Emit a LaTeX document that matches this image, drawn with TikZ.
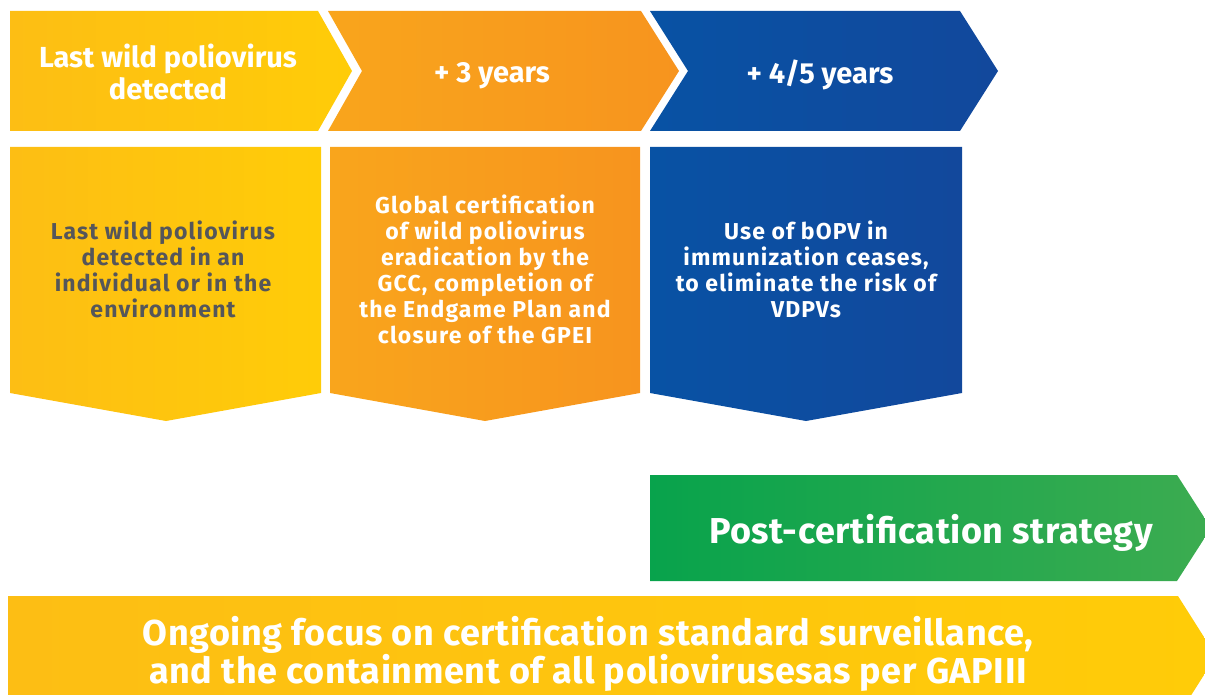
\documentclass[tikz,border=0pt]{standalone}
\usepackage{fontspec}
\setmainfont{Fira Sans}
\newfontfamily\boxfont[LetterSpace=5]{Fira Sans}
\newfontfamily\bigfont[LetterSpace=1.7]{Fira Sans}
\usetikzlibrary{calc}

\definecolor{polioyellow}{RGB}{253,190,20}
\definecolor{polioyellowlight}{RGB}{255,204,8}
\definecolor{poliorange}{RGB}{247,148,30}
\definecolor{poliorangelight}{RGB}{249,165,28}
\definecolor{polioblue}{RGB}{8,82,164}
\definecolor{poliobluedark}{RGB}{18,72,156}
\definecolor{poliogreen}{RGB}{8,163,76}
\definecolor{poliogreenlight}{RGB}{60,172,80}
\definecolor{poliogrey}{RGB}{85,86,90}

\tikzset{
	step text/.style={font=\bfseries\fontsize{29}{32}\selectfont, text=white, align=center},
	box text/.style={font=\boxfont\bfseries\fontsize{23}{26}\selectfont, text=white, align=center},
	big text/.style={font=\bigfont\bfseries\fontsize{36}{37}\selectfont, text=white, align=center},
	yellow fill/.style={left color=polioyellow, right color=polioyellowlight},
	orange fill/.style={left color=poliorangelight, right color=poliorange},
	blue fill/.style={left color=polioblue, right color=poliobluedark},
	green fill/.style={left color=poliogreen, right color=poliogreenlight},
}

\begin{document}
\begin{tikzpicture}[x=1pt, y=-1pt]
	\useasboundingbox (0,0) rectangle (1205,695);
	\clip (0,0) rectangle (1205,695);

	% timeline steps
	\path [yellow fill] (10,11) -- (318,11) -- (352,71) -- (318,131) -- (10,131) -- cycle;
	\path [orange fill] (328,11) -- (641,11) -- (679,71) -- (641,131) -- (328,131) -- (362,71) -- cycle;
	\path [blue fill] (650,11) -- (960,11) -- (998,71) -- (960,131) -- (650,131) -- (688,71) -- cycle;

	\node [step text] (lastwild) at (168,72) {Last wild poliovirus\\detected};
	\node [step text] (threeyears) at (492,76) {+ 3 years};
	\node [step text] (fouryears) at (820,75) {+ 4/5 years};

	% descriptions
	\path [yellow fill] (10,147) -- (321,147) -- (321,393) -- (166,421) -- (10,393) -- cycle;
	\path [orange fill] (330,147) -- (640,147) -- (640,393) -- (485,421) -- (330,393) -- cycle;
	\path [blue fill] (650,147) -- (962,147) -- (962,393) -- (806,421) -- (650,393) -- cycle;

	\node [box text, text=poliogrey] (detecteddesc) at (163,269) {Last wild poliovirus\\detected in an\\individual or in the\\environment};
	\node [box text] (certdesc) at (485,269) {Global certification\\of wild poliovirus\\eradication by the\\GCC, completion of\\the Endgame Plan and\\closure of the GPEI};
	\node [box text] (bopvdesc) at (806,269) {Use of bOPV in\\immunization ceases,\\to eliminate the risk of\\VDPVs};

	% strategies
	\path [green fill] (650,475) -- (1177,475) -- (1211,528) -- (1177,581) -- (650,581) -- cycle;
	\node [big text] (postcert) at (931,533) {Post-certification strategy};

	\path [yellow fill] (8,596) -- (1178,596) -- (1216,656) -- (1178,716) -- (8,716) -- cycle;
	\node [big text] (ongoing) at (588,654) {Ongoing focus on certification standard surveillance,\\and the containment of all poliovirusesas per GAPIII};
\end{tikzpicture}
\end{document}
